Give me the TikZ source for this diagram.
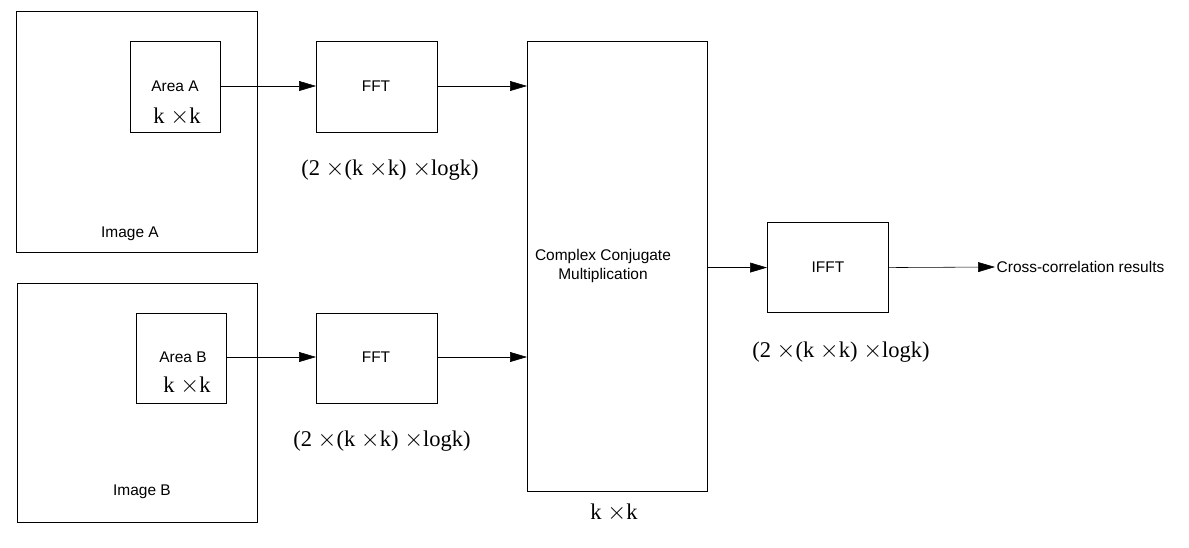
\documentclass[tikz,border=0pt]{standalone}
\usepackage{fontspec}
\setmainfont{Liberation Serif}
\setsansfont{Liberation Sans}
\usetikzlibrary{positioning,arrows.meta}
\tikzset{
  blk/.style={draw,thick,inner sep=0pt,anchor=north west},
  lbl/.style={font=\sffamily\fontsize{11}{13}\selectfont},
  cost/.style={font=\fontsize{16}{19}\selectfont},
  flow/.style={-{Triangle[length=12pt,width=7pt]},thin}
}
\begin{document}
\begin{tikzpicture}[x=0.025cm,y=-0.025cm]
  \useasboundingbox (0,0) rectangle (1189,547);
  % images and areas
  \node[blk,minimum width=241*0.025cm,minimum height=241*0.025cm] (imgA) at (16,11) {};
  \node[lbl] at (130,234) {Image A};
  \node[blk,minimum width=90*0.025cm,minimum height=91*0.025cm] (areaA) at (130,41) {};
  \node[lbl] at (175,86) {Area A};
  \node[cost] at (177,117) {k $\times$k};
  \node[blk,minimum width=240*0.025cm,minimum height=239*0.025cm] (imgB) at (17,283) {};
  \node[lbl] at (142,492) {Image B};
  \node[blk,minimum width=90*0.025cm,minimum height=90*0.025cm] (areaB) at (136,313) {};
  \node[lbl] at (183,357) {Area B};
  \node[cost] at (187,386) {k $\times$k};
  % transforms
  \node[blk,minimum width=121*0.025cm,minimum height=91*0.025cm] (fftA) at (316,41) {};
  \node[lbl] at (376,86) {FFT};
  \node[cost] at (390,170) {(2 $\times$(k $\times$k) $\times$logk)};
  \node[blk,minimum width=121*0.025cm,minimum height=90*0.025cm] (fftB) at (316,313) {};
  \node[lbl] at (376,357) {FFT};
  \node[cost] at (382,441) {(2 $\times$(k $\times$k) $\times$logk)};
  \node[blk,minimum width=180*0.025cm,minimum height=450*0.025cm] (ccm) at (527,41) {};
  \node[lbl,align=center] at (603,266) {Complex Conjugate\\Multiplication};
  \node[cost] at (614,513) {k $\times$k};
  \node[blk,minimum width=121*0.025cm,minimum height=90*0.025cm] (ifft) at (767,222) {};
  \node[lbl] at (828,267) {IFFT};
  \node[cost] at (841,352) {(2 $\times$(k $\times$k) $\times$logk)};
  \node[lbl,anchor=west,inner sep=1pt] (res) at (995,267) {Cross-correlation results};
  % connectors
  \draw[flow] (areaA.east |- 0,86) -- (fftA.west |- 0,86);
  \draw[flow] (fftA.east |- 0,86) -- (ccm.west |- 0,86);
  \draw[flow] (areaB.east |- 0,357) -- (fftB.west |- 0,357);
  \draw[flow] (fftB.east |- 0,357) -- (ccm.west |- 0,357);
  \draw[flow] (ccm.east |- ifft.west) -- (ifft.west);
  \draw[flow] (ifft.east) -- (res.west);
\end{tikzpicture}
\end{document}
